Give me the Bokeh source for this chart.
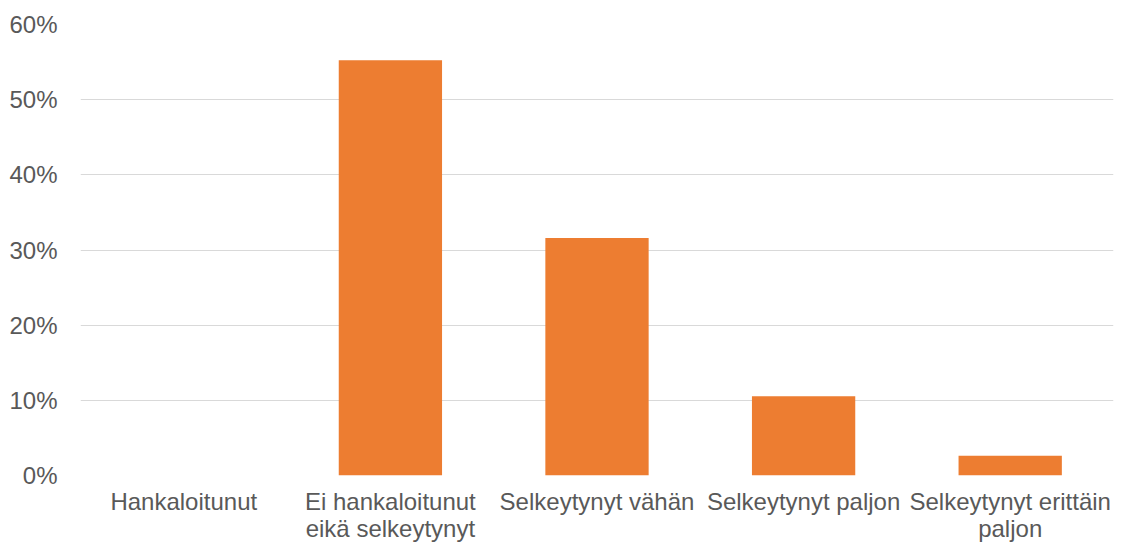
from bokeh.plotting import figure
from bokeh.models import ColumnDataSource, FixedTicker, CustomJSTickFormatter
from bokeh.embed import file_html
from bokeh.resources import INLINE

categories = ["Hankaloitunut", "Ei hankaloitunut\neikä selkeytynyt", "Selkeytynyt vähän",
              "Selkeytynyt paljon", "Selkeytynyt erittäin\npaljon"]
values = [0.0, 55.26, 31.58, 10.53, 2.63]
y_ticks = [0, 10, 20, 30, 40, 50, 60]

FONT = "Liberation Sans"
TEXT = "#595959"

src = ColumnDataSource(dict(cat=categories, val=values))

p = figure(x_range=categories, y_range=(0, 60), width=1118, height=544,
           output_backend="svg", toolbar_location=None,
           min_border_left=80, min_border_right=5, min_border_top=24, min_border_bottom=69)
p.outline_line_color = None
p.vbar(x="cat", top="val", width=0.5, source=src, color="#ED7D31", line_color=None)

p.xgrid.grid_line_color = None
p.ygrid.grid_line_color = "#D9D9D9"
p.ygrid.grid_line_width = 1
p.yaxis.ticker = FixedTicker(ticks=y_ticks)
p.yaxis.formatter = CustomJSTickFormatter(code="return tick.toFixed(0) + '%';")

for ax in (p.xaxis, p.yaxis):
    ax.axis_line_color = None
    ax.major_tick_line_color = None
    ax.minor_tick_line_color = None
    ax.major_tick_out = 0
    ax.major_tick_in = 0
    ax.minor_tick_out = 0
    ax.minor_tick_in = 0
    ax.axis_label = None
    ax.major_label_text_font = FONT
    ax.major_label_text_font_size = "24px"
    ax.major_label_text_color = TEXT

p.yaxis.major_label_standoff = 23
p.xaxis.major_label_standoff = 12
p.xaxis.major_label_text_line_height = 1.0

open("out.html", "w").write(file_html(p, INLINE))
